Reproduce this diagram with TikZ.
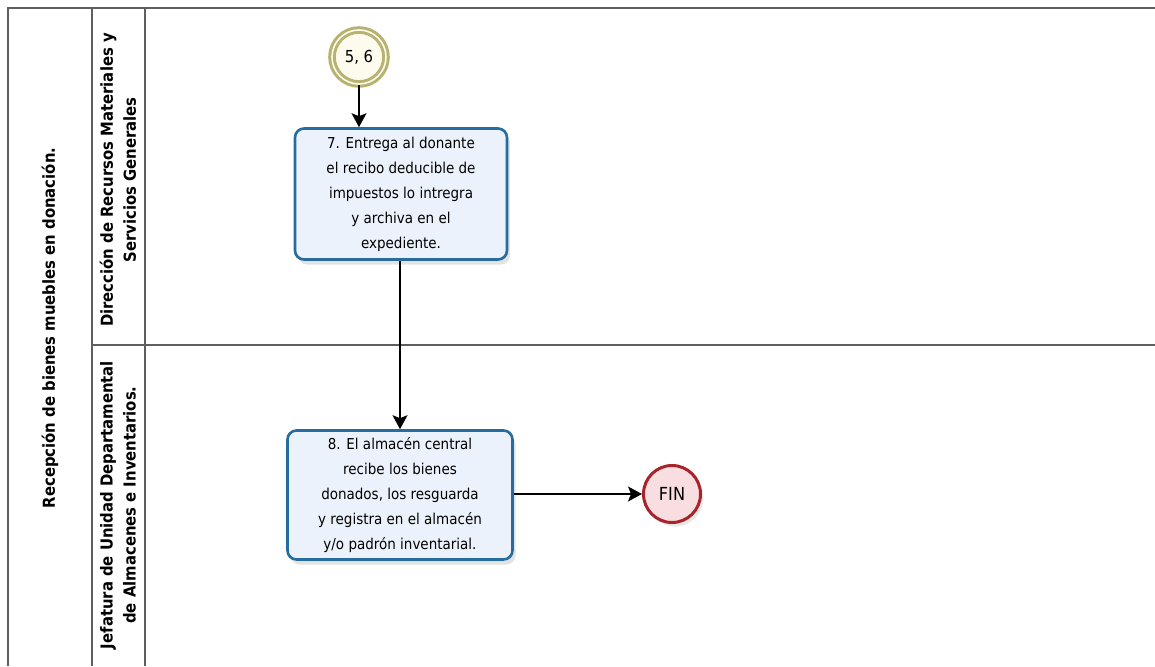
\documentclass[tikz,border=0pt]{standalone}
\usepackage{fontspec}
\setmainfont{DejaVu Sans Condensed}
\usetikzlibrary{positioning,arrows.meta,shadows}

\definecolor{poolline}{RGB}{95,95,95}
\definecolor{taskline}{RGB}{38,108,158}
\definecolor{taskfill}{RGB}{236,242,251}
\definecolor{startline}{RGB}{184,178,112}
\definecolor{startfill}{RGB}{252,251,238}
\definecolor{endline}{RGB}{168,36,44}
\definecolor{endfill}{RGB}{248,222,224}

\begin{document}
\begin{tikzpicture}[
  x=1pt, y=-1pt,
  lane/.style={draw=poolline,line width=1.6pt},
  lanelabel/.style={rotate=90,align=center,font=\fontsize{16.5}{23}\selectfont\bfseries},
  task/.style={draw=taskline,line width=2.6pt,rounded corners=9pt,fill=taskfill,
    align=center,font=\fontsize{15}{25}\selectfont,
    drop shadow={opacity=0.22,shadow xshift=3pt,shadow yshift=-5pt}},
  startev/.style={circle,draw=startline,line width=3pt,fill=startfill,
    double=startfill,double distance=1.6pt,minimum size=54pt,inner sep=0pt,
    font=\fontsize{16.5}{18}\selectfont},
  endev/.style={circle,draw=endline,line width=3pt,fill=endfill,minimum size=57pt,
    inner sep=0pt,font=\fontsize{18}{20}\selectfont,
    drop shadow={opacity=0.18,shadow xshift=3pt,shadow yshift=-4pt}},
  flow/.style={draw,line width=1.3pt,-{Stealth[length=14pt,width=15pt,inset=3pt]}}
    ]
\useasboundingbox (0,0) rectangle (1155,666);

% pool and lanes
\draw[lane] (1155,8) -- (8,8) -- (8,666);
\draw[lane] (92,8) -- (92,666);
\draw[lane] (145,8) -- (145,666);
\draw[lane] (92,345) -- (1155,345);

\node[lanelabel] (pool) at (50,328) {Recepción de bienes muebles en donación.};
\node[lanelabel] (drm) at (118,180) {Dirección de Recursos Materiales y\\Servicios Generales};
\node[lanelabel] (jud) at (118,505) {Jefatura de Unidad Departamental\\de Almacenes e Inventarios.};

% flow objects
\node[startev] (s) at (359,57) {5, 6};
\node[task,minimum width=212pt,minimum height=131pt] (t7) at (401,194)
  {7. Entrega al donante\\el recibo deducible de\\impuestos lo intregra\\y archiva en el\\expediente.};
\node[task,minimum width=225pt,minimum height=129pt] (t8) at (400,495)
  {8. El almacén central\\recibe los bienes\\donados, los resguarda\\y registra en el almacén\\y/o padrón inventarial.};
\node[endev] (fin) at (672,494) {FIN};

\path[flow] (s) -- (s |- t7.north);
\path[flow] (t8.north |- t7.south) -- (t8.north);
\path[flow] (t8.east |- fin) -- (fin);
\end{tikzpicture}
\end{document}
